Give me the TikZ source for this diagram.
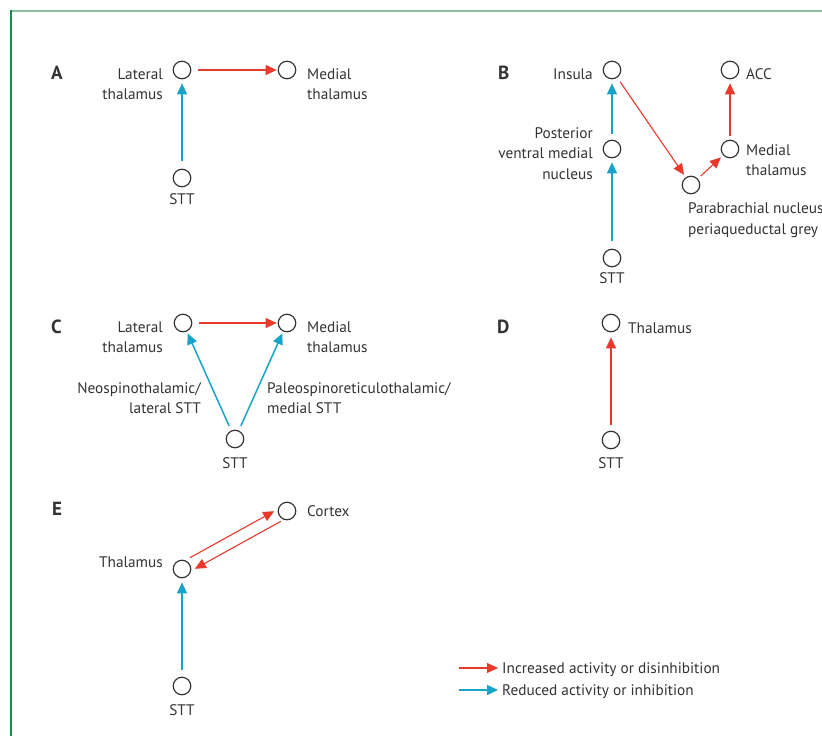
\documentclass[tikz,border=0pt]{standalone}
\usepackage{fontspec}
\setmainfont{PT Sans}
\usetikzlibrary{positioning}
\usetikzlibrary{arrows.meta}
\definecolor{pred}{HTML}{E8392C}
\definecolor{pblue}{HTML}{1AA3C9}
\definecolor{ptext}{HTML}{333333}
\definecolor{frameg}{HTML}{1A8A4E}
\definecolor{framel}{HTML}{8CBFA0}
\tikzset{site/.style = {draw=ptext, circle, line width=1.2pt,
                        inner sep=0, minimum size=17.5pt}}
\tikzset{incr/.style = {pred, line width=1.1pt,
                        -{Triangle[length=11pt,width=10pt]},
                        shorten <=5pt, shorten >=3pt}}
\tikzset{redu/.style = {pblue, line width=1.5pt,
                        -{Triangle[length=11pt,width=10pt]},
                        shorten <=8pt, shorten >=4pt}}
\tikzset{txt/.style = {text=ptext, inner sep=0,
                       font=\fontsize{15.3}{20.5}\selectfont}}
\tikzset{panel/.style = {text=ptext, inner sep=0,
                         font=\fontsize{19}{20}\selectfont\bfseries}}

\begin{document}
\begin{tikzpicture}[x=1pt, y=-1pt]
      \useasboundingbox (0,0) rectangle (822,736);
      % frame
      \draw[framel, line width=2.5pt] (10,11) -- (822,11);
      \draw[frameg, line width=2pt] (11,10) -- (11,736);
      % A
      \node[panel, anchor=base west] (pA) at (51,79) {A};
      \node[site] (latA) at (182,70) {};
      \node[site] (medA) at (287,70) {};
      \node[site] (sttA) at (182,178) {};
      \node[txt, anchor=base east, align=right] (latA-t) at (163,99.5) {Lateral\\thalamus};
      \node[txt, anchor=base west, align=left] (medA-t) at (307,99.5) {Medial\\thalamus};
      \node[txt, anchor=base] (sttA-t) at (182,204) {STT};
      \draw[incr, shorten <=7pt, shorten >=1pt] (latA) -- (medA);
      \draw[redu] (sttA) -- (latA);
      % B
      \node[panel, anchor=base west] (pB) at (498,79) {B};
      \node[site] (insB) at (612,70) {};
      \node[site] (accB) at (730,70) {};
      \node[site] (pvmB) at (612,149) {};
      \node[site] (medB) at (730,149) {};
      \node[site] (pbB) at (691,185) {};
      \node[site] (sttB) at (612,258) {};
      \node[txt, anchor=base east] (insB-t) at (593,79) {Insula};
      \node[txt, anchor=base west] (accB-t) at (746,79) {ACC};
      \node[txt, anchor=base east, align=right] (pvmB-t) at (593,179)
        {Posterior\\ventral medial\\nucleus};
      \node[txt, anchor=base west, align=left] (medB-t) at (746,175.5) {Medial\\thalamus};
      \node[txt, anchor=base west, align=left] (pbB-t) at (688,234)
        {Parabrachial nucleus/\\periaqueductal grey};
      \node[txt, anchor=base] (sttB-t) at (612,283) {STT};
      \draw[redu] (sttB) -- (pvmB);
      \draw[redu, shorten <=6pt] (pvmB) -- (insB);
      \draw[incr] (insB) -- (pbB);
      \draw[incr, shorten <=4pt] (pbB) -- (medB);
      \draw[incr, shorten <=4pt, shorten >=4pt] (medB) -- (accB);
      % C
      \node[panel, anchor=base west] (pC) at (51,333) {C};
      \node[site] (latC) at (183,323) {};
      \node[site] (medC) at (287,323) {};
      \node[site] (sttC) at (235,439) {};
      \node[txt, anchor=base east, align=right] (latC-t) at (163,352.5) {Lateral\\thalamus};
      \node[txt, anchor=base west, align=left] (medC-t) at (307,352.5) {Medial\\thalamus};
      \node[txt, anchor=base east, align=right] (neoC-t) at (201,413.5)
        {Neospinothalamic/\\lateral STT};
      \node[txt, anchor=base west, align=left] (paleoC-t) at (267,413.5)
        {Paleospinoreticulothalamic/\\medial STT};
      \node[txt, anchor=base] (sttC-t) at (235,468) {STT};
      \draw[incr, shorten <=7pt, shorten >=1pt] (latC) -- (medC);
      \draw[redu, shorten <=5pt, shorten >=2pt] (sttC) -- (latC);
      \draw[redu, shorten <=5pt, shorten >=2pt] (sttC) -- (medC);
      % D
      \node[panel, anchor=base west] (pD) at (497,333) {D};
      \node[site] (thD) at (611,323) {};
      \node[site] (sttD) at (611,440) {};
      \node[txt, anchor=base west] (thD-t) at (628,333) {Thalamus};
      \node[txt, anchor=base] (sttD-t) at (611,468) {STT};
      \draw[incr, shorten <=6pt, shorten >=5pt] (sttD) -- (thD);
      % E
      \node[panel, anchor=base west] (pE) at (52,515) {E};
      \node[site] (ctxE) at (287,511) {};
      \node[site] (thE) at (182,569) {};
      \node[site] (sttE) at (182,686) {};
      \node[txt, anchor=base west] (ctxE-t) at (307,516) {Cortex};
      \node[txt, anchor=base east] (thE-t) at (163,567) {Thalamus};
      \node[txt, anchor=base] (sttE-t) at (182,715) {STT};
      \draw[incr, shorten <=3pt, shorten >=2pt,
            transform canvas={shift={(-2.9pt,5.3pt)}}] (thE) -- (ctxE);
      \draw[incr, shorten <=1pt, shorten >=2pt,
            transform canvas={shift={(2.9pt,-5.3pt)}}] (ctxE) -- (thE);
      \draw[redu, shorten <=7pt] (sttE) -- (thE);
      % legend
      \coordinate (incS) at (459,668);
      \coordinate (incE) at (498,668);
      \coordinate (redS) at (459,690);
      \coordinate (redE) at (498,690);
      \draw[incr, shorten <=0pt, shorten >=0pt] (incS) -- (incE);
      \draw[redu, shorten <=0pt, shorten >=0pt] (redS) -- (redE);
      \node[txt, anchor=base west] (inc-t) at (502,673) {Increased activity or disinhibition};
      \node[txt, anchor=base west] (red-t) at (502,695) {Reduced activity or inhibition};
\end{tikzpicture}
\end{document}
